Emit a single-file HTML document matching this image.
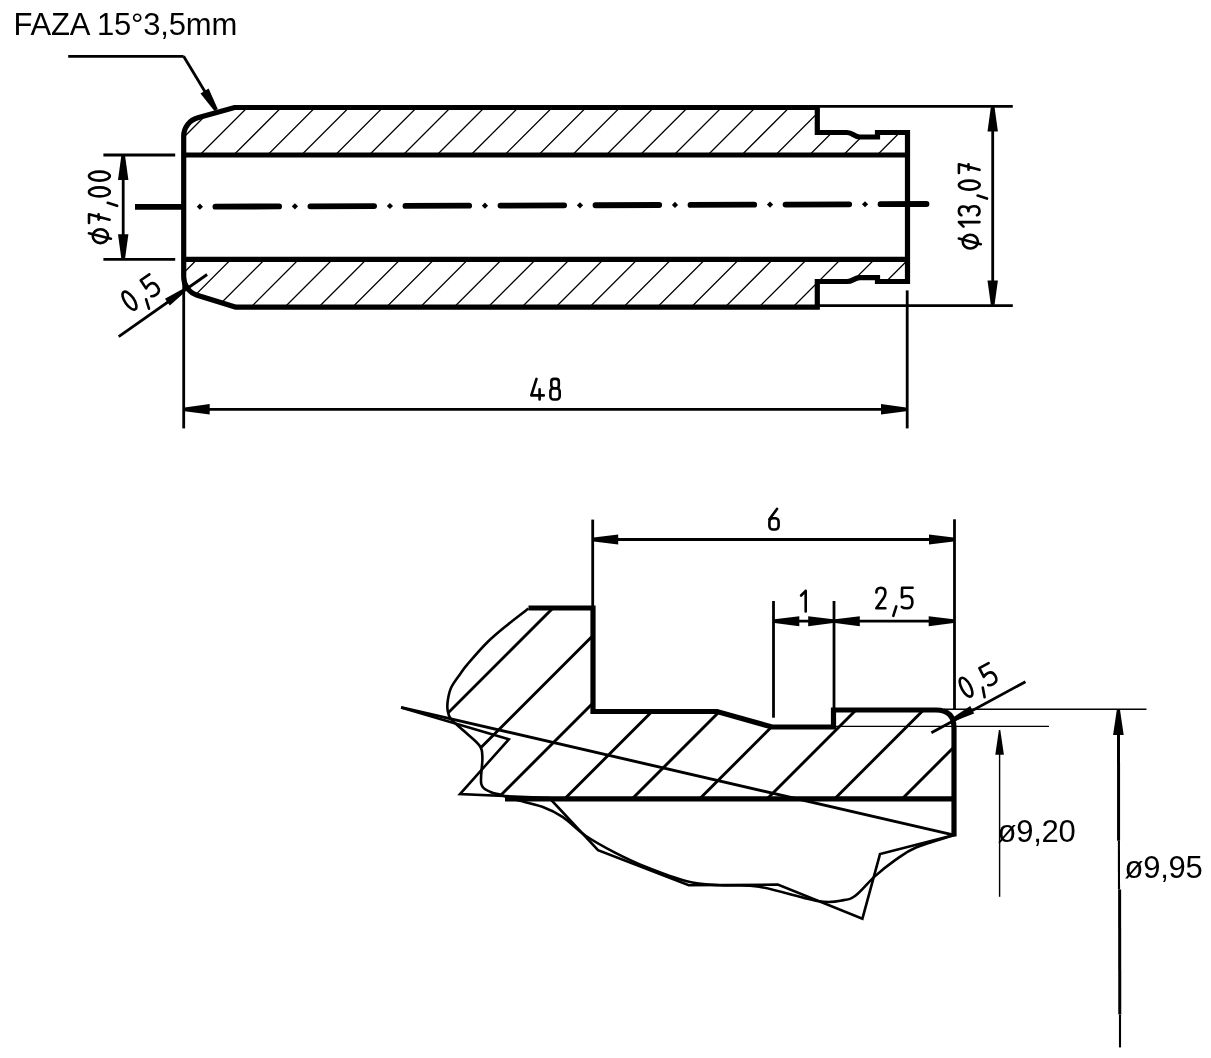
<!DOCTYPE html>
<html><head><meta charset="utf-8"><style>html,body{margin:0;padding:0;background:#fff;overflow:hidden}svg{display:block}</style></head>
<body><svg style="will-change:transform" width="1211" height="1058" viewBox="0 0 1211 1058" stroke="#000" fill="#000"><defs><clipPath id="ct"><path d="M183.7,155.0 L183.7,136.1 A19,19 0 0 1 197.8,117.8 L234.5,107.5 L817.3,107.5 L817.3,132.5 L847,132.5 L860,137 L877.5,137 L877.5,132.5 L907.5,132.5 L907.5,155.0 Z"/></clipPath><clipPath id="cb"><path d="M183.7,259.3 L183.7,277 A19,19 0 0 0 197.15,295.2 L236,307.2 L817.3,307.2 L817.3,281.5 L847,281.5 L860,277.7 L877.5,277.7 L877.5,281.5 L907.5,281.5 L907.5,259.3 Z"/></clipPath><clipPath id="cd"><path d="M528.5,608 L593,608 L593,711.5 L717,711.5 L772,727 L833.5,727 L833.5,710 L936,710 Q954,710 954,728 L954,798.8 L501,798.8 L501.00,794.90 L490.50,792.00 L481.30,784.00 L482.40,757.50 L479.30,745.30 L464.00,731.00 L450.90,719.00 L447.60,710.00 L447.90,699.80 L451.30,687.30 L460.40,673.70 L467.20,664.60 L487.60,642.00 L508.00,624.40 L528.50,608.50 Z"/></clipPath></defs><path clip-path="url(#ct)" d="M0,117.76 L1211,-1093.24 M0,151.63 L1211,-1059.37 M0,185.50 L1211,-1025.50 M0,219.37 L1211,-991.63 M0,253.24 L1211,-957.76 M0,287.11 L1211,-923.89 M0,320.98 L1211,-890.02 M0,354.85 L1211,-856.15 M0,388.72 L1211,-822.28 M0,422.59 L1211,-788.41 M0,456.46 L1211,-754.54 M0,490.33 L1211,-720.67 M0,524.20 L1211,-686.80 M0,558.07 L1211,-652.93 M0,591.94 L1211,-619.06 M0,625.81 L1211,-585.19 M0,659.68 L1211,-551.32 M0,693.55 L1211,-517.45 M0,727.42 L1211,-483.58 M0,761.29 L1211,-449.71 M0,795.16 L1211,-415.84 M0,829.03 L1211,-381.97 M0,862.90 L1211,-348.10 M0,896.77 L1211,-314.23 M0,930.64 L1211,-280.36 M0,964.51 L1211,-246.49 M0,998.38 L1211,-212.62 M0,1032.25 L1211,-178.75 M0,1066.12 L1211,-144.88 M0,1099.99 L1211,-111.01 M0,1133.86 L1211,-77.14 M0,1167.73 L1211,-43.27 M0,1201.60 L1211,-9.40 M0,1235.47 L1211,24.47 M0,1269.34 L1211,58.34 M0,1303.21 L1211,92.21 M0,1337.08 L1211,126.08 M0,1370.95 L1211,159.95 M0,1404.82 L1211,193.82 M0,1438.69 L1211,227.69 M0,1472.56 L1211,261.56 M0,1506.43 L1211,295.43 M0,1540.30 L1211,329.30" fill="none" stroke-width="1.3"/>
<path clip-path="url(#cb)" d="M0,117.76 L1211,-1093.24 M0,151.63 L1211,-1059.37 M0,185.50 L1211,-1025.50 M0,219.37 L1211,-991.63 M0,253.24 L1211,-957.76 M0,287.11 L1211,-923.89 M0,320.98 L1211,-890.02 M0,354.85 L1211,-856.15 M0,388.72 L1211,-822.28 M0,422.59 L1211,-788.41 M0,456.46 L1211,-754.54 M0,490.33 L1211,-720.67 M0,524.20 L1211,-686.80 M0,558.07 L1211,-652.93 M0,591.94 L1211,-619.06 M0,625.81 L1211,-585.19 M0,659.68 L1211,-551.32 M0,693.55 L1211,-517.45 M0,727.42 L1211,-483.58 M0,761.29 L1211,-449.71 M0,795.16 L1211,-415.84 M0,829.03 L1211,-381.97 M0,862.90 L1211,-348.10 M0,896.77 L1211,-314.23 M0,930.64 L1211,-280.36 M0,964.51 L1211,-246.49 M0,998.38 L1211,-212.62 M0,1032.25 L1211,-178.75 M0,1066.12 L1211,-144.88 M0,1099.99 L1211,-111.01 M0,1133.86 L1211,-77.14 M0,1167.73 L1211,-43.27 M0,1201.60 L1211,-9.40 M0,1235.47 L1211,24.47 M0,1269.34 L1211,58.34 M0,1303.21 L1211,92.21 M0,1337.08 L1211,126.08 M0,1370.95 L1211,159.95 M0,1404.82 L1211,193.82 M0,1438.69 L1211,227.69 M0,1472.56 L1211,261.56 M0,1506.43 L1211,295.43 M0,1540.30 L1211,329.30" fill="none" stroke-width="1.3"/>
<path d="M236,307.2 L197.15,295.2 A19,19 0 0 1 183.7,277 L183.7,136.1 A19,19 0 0 1 197.8,117.8 L234.5,107.5 L817.3,107.5 L817.3,132.5 L847,132.5 C853,132.5 854,137 860,137 L877.5,137 L877.5,132.5 L907.5,132.5 L907.5,281.5 L877.5,281.5 L877.5,277.7 L860,277.7 C854,277.7 853,281.5 847,281.5 L817.3,281.5 L817.3,307.2 Z" fill="none" stroke-width="5.2" stroke-linejoin="miter"/>
<line x1="183.70" y1="155.00" x2="907.50" y2="155.00" stroke-width="5.2" stroke-linecap="butt"/>
<line x1="183.70" y1="259.30" x2="907.50" y2="259.30" stroke-width="5.2" stroke-linecap="butt"/>
<path d="M135,206.96 L183,206.78" fill="none" stroke-width="5.8"/>
<path d="M215.40,206.67 L279.10,206.41" fill="none" stroke-width="5.8" stroke-linecap="round"/>
<path d="M310.42,206.31 L374.12,206.06" fill="none" stroke-width="5.8" stroke-linecap="round"/>
<path d="M405.44,205.96 L469.14,205.70" fill="none" stroke-width="5.8" stroke-linecap="round"/>
<path d="M500.46,205.60 L564.16,205.35" fill="none" stroke-width="5.8" stroke-linecap="round"/>
<path d="M595.48,205.25 L659.18,204.99" fill="none" stroke-width="5.8" stroke-linecap="round"/>
<path d="M690.50,204.89 L754.20,204.64" fill="none" stroke-width="5.8" stroke-linecap="round"/>
<path d="M785.52,204.54 L849.22,204.28" fill="none" stroke-width="5.8" stroke-linecap="round"/>
<path d="M880.54,204.18 L926.50,203.99" fill="none" stroke-width="5.8" stroke-linecap="round"/>
<path d="M196.80,206.71 L199.90,203.61 L203.00,206.71 L199.90,209.81Z" stroke="none"/>
<path d="M291.82,206.36 L294.92,203.26 L298.02,206.36 L294.92,209.46Z" stroke="none"/>
<path d="M386.84,206.01 L389.94,202.91 L393.04,206.01 L389.94,209.11Z" stroke="none"/>
<path d="M481.86,205.65 L484.96,202.55 L488.06,205.65 L484.96,208.75Z" stroke="none"/>
<path d="M576.88,205.30 L579.98,202.20 L583.08,205.30 L579.98,208.40Z" stroke="none"/>
<path d="M671.90,204.94 L675.00,201.84 L678.10,204.94 L675.00,208.04Z" stroke="none"/>
<path d="M766.92,204.59 L770.02,201.49 L773.12,204.59 L770.02,207.69Z" stroke="none"/>
<path d="M861.94,204.23 L865.04,201.13 L868.14,204.23 L865.04,207.33Z" stroke="none"/>
<line x1="183.70" y1="280.00" x2="183.70" y2="428.40" stroke-width="2.8" stroke-linecap="butt"/>
<line x1="907.20" y1="290.40" x2="907.20" y2="428.40" stroke-width="2.8" stroke-linecap="butt"/>
<line x1="183.70" y1="409.30" x2="907.20" y2="409.30" stroke-width="2.8" stroke-linecap="butt"/>
<path d="M184.70,407.40 L209.70,404.00 L209.70,414.60 L184.70,411.20Z" fill="#000" stroke="none"/>
<path d="M906.00,411.20 L881.00,414.60 L881.00,404.00 L906.00,407.40Z" fill="#000" stroke="none"/>
<g transform="translate(530.00,400.80) rotate(0)" fill="none" stroke-width="2.6" stroke-linecap="round" stroke-linejoin="round"><g transform="translate(0.00,0)"><path d="M6.5,-21.9 L1.3,-5.4 L13.8,-5.4 M9.6,-11.4 L9.6,-1.3"/></g><g transform="translate(19.10,0)"><rect x="2.2" y="-21.9" width="7.5" height="9.3" rx="2.8" ry="2.8"/><rect x="1.3" y="-12.6" width="9.3" height="11.3" rx="3.2" ry="3.2"/></g></g>
<line x1="103.40" y1="155.00" x2="175.20" y2="155.00" stroke-width="2.8" stroke-linecap="butt"/>
<line x1="103.40" y1="259.30" x2="175.20" y2="259.30" stroke-width="2.8" stroke-linecap="butt"/>
<line x1="123.20" y1="155.00" x2="123.20" y2="259.30" stroke-width="2.8" stroke-linecap="butt"/>
<path d="M125.10,156.00 L128.40,180.00 L118.00,180.00 L121.30,156.00Z" fill="#000" stroke="none"/>
<path d="M121.30,258.30 L118.00,234.30 L128.40,234.30 L125.10,258.30Z" fill="#000" stroke="none"/>
<g transform="translate(110.90,244.40) rotate(-90)" fill="none" stroke-width="2.6" stroke-linecap="round" stroke-linejoin="round"><g transform="translate(0.00,0)"><ellipse cx="8.2" cy="-10.5" rx="6.9" ry="7.6"/><path d="M11.2,-22 L5.6,0"/></g><g transform="translate(20.20,0)"><path d="M1.3,-21.9 L10,-21.9 L4.5,-1.3 M4.6,-12.3 L10,-12.3"/></g><g transform="translate(37.30,0)"><path d="M4.3,-3.2 L1.3,6.2"/></g><g transform="translate(46.70,0)"><ellipse cx="5.8" cy="-11.5" rx="4.5" ry="10.4"/></g><g transform="translate(62.50,0)"><ellipse cx="5.8" cy="-11.5" rx="4.5" ry="10.4"/></g></g>
<line x1="817.30" y1="106.40" x2="1012.80" y2="106.40" stroke-width="2.8" stroke-linecap="butt"/>
<line x1="817.30" y1="305.70" x2="1012.80" y2="305.70" stroke-width="2.8" stroke-linecap="butt"/>
<line x1="992.70" y1="106.40" x2="992.70" y2="305.70" stroke-width="2.8" stroke-linecap="butt"/>
<path d="M994.60,107.50 L997.90,131.50 L987.50,131.50 L990.80,107.50Z" fill="#000" stroke="none"/>
<path d="M990.80,304.60 L987.50,280.60 L997.90,280.60 L994.60,304.60Z" fill="#000" stroke="none"/>
<g transform="translate(980.80,249.80) rotate(-90)" fill="none" stroke-width="2.6" stroke-linecap="round" stroke-linejoin="round"><g transform="translate(0.00,0)"><ellipse cx="8.2" cy="-10.5" rx="6.9" ry="7.6"/><path d="M11.2,-22 L5.6,0"/></g><g transform="translate(21.80,0)"><path d="M5.9,-21.9 L5.9,-1.3 M1.3,-17.3 L5.9,-21.9"/></g><g transform="translate(33.30,0)"><path d="M1.3,-19.4 Q2.2,-21.9 5.6,-21.9 Q10.0,-21.9 10.0,-17.2 Q10.0,-12.4 5.2,-12.4 Q10.2,-12.4 10.2,-6.9 Q10.2,-1.3 5.5,-1.3 Q2.2,-1.3 1.3,-3.8"/></g><g transform="translate(49.90,0)"><path d="M4.3,-3.2 L1.3,6.2"/></g><g transform="translate(58.90,0)"><ellipse cx="5.8" cy="-11.5" rx="4.5" ry="10.4"/></g><g transform="translate(75.50,0)"><path d="M1.3,-21.9 L10,-21.9 L4.5,-1.3 M4.6,-12.3 L10,-12.3"/></g></g>
<line x1="68.20" y1="56.30" x2="183.60" y2="56.30" stroke-width="2.8" stroke-linecap="butt"/>
<line x1="183.60" y1="56.30" x2="210.00" y2="100.00" stroke-width="2.8" stroke-linecap="butt"/>
<path d="M214.47,110.98 L200.49,93.38 L208.62,88.46 L217.73,109.02Z" fill="#000" stroke="none"/>
<text x="13.6" y="34.8" font-family="Liberation Sans, sans-serif" font-size="31" letter-spacing="-0.2" stroke="none" fill="#000">FAZA 15°3,5mm</text>
<line x1="118.70" y1="336.60" x2="207.10" y2="274.50" stroke-width="2.8" stroke-linecap="butt"/>
<path d="M184.80,292.15 L169.80,305.58 L164.95,298.73 L182.60,289.05Z" fill="#000" stroke="none"/>
<g transform="translate(131.20,313.40) rotate(-34.5)" fill="none" stroke-width="2.6" stroke-linecap="round" stroke-linejoin="round"><g transform="translate(0.00,0)"><ellipse cx="5.8" cy="-11.5" rx="4.5" ry="10.4"/></g><g transform="translate(16.00,0)"><path d="M4.3,-3.2 L1.3,6.2"/></g><g transform="translate(25.00,0)"><path d="M12.1,-21.9 L1.6,-21.9 L1.4,-12.2 Q3.6,-13.6 6.6,-13.6 Q11.9,-13.6 11.9,-7.4 Q11.9,-1.3 6.3,-1.3 Q2.8,-1.3 1.3,-2.8"/></g></g>
<path clip-path="url(#cd)" d="M0,1093.50 L1211,-117.50 M0,1161.00 L1211,-50.00 M0,1228.50 L1211,17.50 M0,1296.00 L1211,85.00 M0,1363.50 L1211,152.50 M0,1431.00 L1211,220.00 M0,1498.50 L1211,287.50 M0,1566.00 L1211,355.00 M0,1633.50 L1211,422.50 M0,1701.00 L1211,490.00 M0,1768.50 L1211,557.50" fill="none" stroke-width="2.9"/>
<path d="M528.50,608.50 C525.08,611.15 514.82,618.82 508.00,624.40 C501.18,629.98 494.40,635.30 487.60,642.00 C480.80,648.70 471.73,659.32 467.20,664.60 C462.67,669.88 463.05,669.92 460.40,673.70 C457.75,677.48 453.38,682.95 451.30,687.30 C449.22,691.65 448.52,696.02 447.90,699.80 C447.28,703.58 447.10,706.80 447.60,710.00 C448.10,713.20 448.17,715.50 450.90,719.00 C453.63,722.50 459.27,726.62 464.00,731.00 C468.73,735.38 476.23,740.88 479.30,745.30 C482.37,749.72 482.07,751.05 482.40,757.50 C482.73,763.95 479.95,778.25 481.30,784.00 C482.65,789.75 487.22,790.18 490.50,792.00 C493.78,793.82 496.85,793.63 501.00,794.90 C505.15,796.17 508.52,797.62 515.40,799.60 C522.28,801.58 534.38,803.87 542.30,806.80 C550.22,809.73 555.68,812.38 562.90,817.20 C570.12,822.02 577.00,829.85 585.60,835.70 C594.20,841.55 604.52,847.13 614.50,852.30 C624.48,857.47 633.45,861.88 645.50,866.70 C657.55,871.52 674.38,878.10 686.80,881.20 C699.22,884.30 707.93,884.38 720.00,885.30 C732.07,886.22 742.70,884.05 759.20,886.70 C775.70,889.35 804.88,898.97 819.00,901.20 C833.12,903.43 837.68,901.13 843.90,900.10 C850.12,899.07 851.15,898.95 856.30,895.00 C861.45,891.05 868.27,882.25 874.80,876.40 C881.33,870.55 888.63,864.72 895.50,859.90 C902.37,855.08 906.20,851.63 916.00,847.50 C925.80,843.37 947.92,837.17 954.30,835.10" fill="none" stroke-width="2.6"/>
<path d="M401.10,707.40 L508.80,739.30 L460.00,794.10 L549.50,798.00 L598.00,850.20 L688.80,885.30 L777.80,884.60 L862.40,918.70 L880.00,854.10 L954.30,835.10" fill="none" stroke-width="2.6" stroke-linecap="butt" stroke-linejoin="miter"/>
<line x1="401.10" y1="707.40" x2="954.30" y2="835.10" stroke-width="2.9" stroke-linecap="butt"/>
<path d="M528.5,608 L593,608 L593,711.5 L717,711.5 L772,727 L833.5,727 L833.5,710 L936,710 Q954,710 954,728 L954,836.5" fill="none" stroke-width="5.2"/>
<line x1="505.00" y1="798.80" x2="954.00" y2="798.80" stroke-width="5.2" stroke-linecap="butt"/>
<line x1="592.70" y1="519.60" x2="592.70" y2="607.00" stroke-width="2.8" stroke-linecap="butt"/>
<line x1="954.50" y1="519.30" x2="954.50" y2="709.00" stroke-width="2.8" stroke-linecap="butt"/>
<line x1="592.70" y1="539.50" x2="954.50" y2="539.50" stroke-width="2.8" stroke-linecap="butt"/>
<path d="M593.70,537.60 L618.20,534.50 L618.20,544.50 L593.70,541.40Z" fill="#000" stroke="none"/>
<path d="M953.50,541.40 L929.00,544.50 L929.00,534.50 L953.50,537.60Z" fill="#000" stroke="none"/>
<g transform="translate(768.10,530.80) rotate(0)" fill="none" stroke-width="2.6" stroke-linecap="round" stroke-linejoin="round"><g transform="translate(0.00,0)"><rect x="1.3" y="-12.6" width="9.2" height="11.3" rx="3.5" ry="3.5"/><path d="M1.3,-11.5 L8.9,-21.9"/></g></g>
<line x1="773.50" y1="601.00" x2="773.50" y2="717.70" stroke-width="2.8" stroke-linecap="butt"/>
<line x1="834.00" y1="601.00" x2="834.00" y2="710.00" stroke-width="2.8" stroke-linecap="butt"/>
<line x1="773.50" y1="621.20" x2="954.50" y2="621.20" stroke-width="2.8" stroke-linecap="butt"/>
<path d="M774.50,619.30 L799.30,616.20 L799.30,626.20 L774.50,623.10Z" fill="#000" stroke="none"/>
<path d="M833.00,623.10 L808.20,626.20 L808.20,616.20 L833.00,619.30Z" fill="#000" stroke="none"/>
<path d="M835.00,619.30 L859.80,616.20 L859.80,626.20 L835.00,623.10Z" fill="#000" stroke="none"/>
<path d="M953.50,623.10 L928.70,626.20 L928.70,616.20 L953.50,619.30Z" fill="#000" stroke="none"/>
<g transform="translate(799.80,612.80) rotate(0)" fill="none" stroke-width="2.6" stroke-linecap="round" stroke-linejoin="round"><g transform="translate(0.00,0)"><path d="M5.9,-21.9 L5.9,-1.3 M1.3,-17.3 L5.9,-21.9"/></g></g>
<g transform="translate(875.00,609.60) rotate(0)" fill="none" stroke-width="2.6" stroke-linecap="round" stroke-linejoin="round"><g transform="translate(0.00,0)"><path d="M1.4,-17.2 Q1.4,-21.9 5.9,-21.9 Q10.4,-21.9 10.4,-17 Q10.4,-14 8.6,-11.6 L1.3,-1.3 L10.4,-1.3"/></g><g transform="translate(17.00,0)"><path d="M4.3,-3.2 L1.3,6.2"/></g><g transform="translate(25.50,0)"><path d="M12.1,-21.9 L1.6,-21.9 L1.4,-12.2 Q3.6,-13.6 6.6,-13.6 Q11.9,-13.6 11.9,-7.4 Q11.9,-1.3 6.3,-1.3 Q2.8,-1.3 1.3,-2.8"/></g></g>
<line x1="931.40" y1="732.80" x2="1025.50" y2="681.70" stroke-width="2.8" stroke-linecap="butt"/>
<path d="M951.82,718.22 L970.23,705.96 L974.13,713.40 L953.58,721.58Z" fill="#000" stroke="none"/>
<g transform="translate(966.45,700.10) rotate(-28.5)" fill="none" stroke-width="2.6" stroke-linecap="round" stroke-linejoin="round"><g transform="translate(0.00,0)"><ellipse cx="5.8" cy="-11.5" rx="4.5" ry="10.4"/></g><g transform="translate(16.00,0)"><path d="M4.3,-3.2 L1.3,6.2"/></g><g transform="translate(25.00,0)"><path d="M12.1,-21.9 L1.6,-21.9 L1.4,-12.2 Q3.6,-13.6 6.6,-13.6 Q11.9,-13.6 11.9,-7.4 Q11.9,-1.3 6.3,-1.3 Q2.8,-1.3 1.3,-2.8"/></g></g>
<line x1="944.00" y1="709.30" x2="1146.50" y2="709.30" stroke-width="1.4" stroke-linecap="butt"/>
<line x1="836.00" y1="726.40" x2="1049.00" y2="726.40" stroke-width="1.4" stroke-linecap="butt"/>
<line x1="999.60" y1="740.00" x2="999.60" y2="896.80" stroke-width="1.4" stroke-linecap="butt"/>
<path d="M1000.30,729.90 L1003.90,754.70 L995.30,754.70 L998.90,729.90Z" fill="#000" stroke="none"/>
<line x1="1118.50" y1="725.00" x2="1118.60" y2="840.70" stroke-width="3.0" stroke-linecap="butt"/>
<line x1="1118.90" y1="840.70" x2="1119.00" y2="889.50" stroke-width="2.1" stroke-linecap="butt"/>
<line x1="1119.60" y1="889.50" x2="1119.80" y2="1014.60" stroke-width="3.0" stroke-linecap="butt"/>
<line x1="1120.00" y1="1014.60" x2="1120.00" y2="1047.40" stroke-width="2.1" stroke-linecap="butt"/>
<path d="M1119.90,709.30 L1123.70,735.00 L1113.10,735.00 L1116.90,709.30Z" fill="#000" stroke="none"/>
<text x="997.5" y="842.2" font-family="Liberation Sans, sans-serif" font-size="31" letter-spacing="-0.25" stroke="none" fill="#000">ø9,20</text>
<text x="1124.5" y="878.4" font-family="Liberation Sans, sans-serif" font-size="31" letter-spacing="-0.25" stroke="none" fill="#000">ø9,95</text></svg></body></html>
